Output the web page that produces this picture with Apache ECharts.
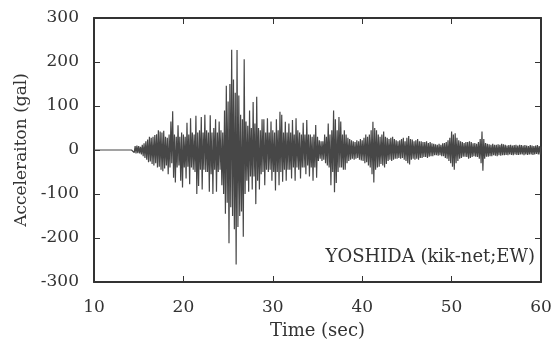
<!DOCTYPE html>
<html>
<head>
<meta charset="utf-8">
<script src="https://cdn.jsdelivr.net/npm/echarts@6/dist/echarts.min.js"></script>
<style>
  html, body { margin: 0; padding: 0; background: #fff; }
  #chart { width: 556px; height: 345px; }
</style>
</head>
<body>
<div id="chart"></div>
<script>
// sampled record: start time and step (sec)
const t0 = 10
const dt = 0.1
// acceleration (gal); one row per second from 15 s
const accel = [
  0, 0, 0, 0, 0, 0, 0, 0, 0, 0, 0, 0, 0, 0, 0, 0, 0, 0, 0, 0, 0, 0,
  0, 0, 0, 0, 0, 0, 0, 0, 0, 0, 0, 0, 0, 0, 0, 0, 0, 0, 0, 0, 0, 0,
  4, -6, 9, -8, 10, -7,
  9, -8, 7, -10, 12, -14, 15, -18, 20, -22,
  24, -28, 30, -26, 28, -32, 30, -35, 34, -30,
  36, -40, 45, -38, 42, -45, 40, -48, 44, -42,
  30, -35, 28, -55, 35, -40, 65, -30, 88, -63,
  35, -74, 30, -40, 56, -35, 30, -70, 40, -85,
  35, -40, 30, -65, 62, -38, 35, -78, 72, -40,
  40, -45, 35, -50, 78, -100, 40, -82, 45, -45,
  75, -90, 40, -45, 80, -50, 45, -50, 40, -95,
  79, -55, 40, -100, 50, -45, 70, -95, 40, -50,
  65, -45, 45, -80, 40, -100, 90, -145, 146, -120,
  110, -212, 150, -130, 228, -150, 160, -180, 130, -260,
  227, -175, 124, -150, 80, -140, 70, -197, 206, -100,
  65, -70, 55, -95, 90, -60, 50, -90, 109, -60,
  60, -123, 121, -70, 50, -90, 45, -55, 70, -50,
  70, -80, 40, -45, 72, -50, 40, -45, 65, -70,
  45, -50, 40, -92, 70, -50, 45, -80, 87, -50,
  80, -72, 40, -45, 64, -70, 40, -45, 60, -45,
  40, -65, 68, -40, 35, -70, 72, -40, 45, -45,
  40, -65, 35, -40, 62, -40, 35, -55, 68, -35,
  35, -60, 35, -40, 30, -70, 35, -40, 57, -63,
  30, -25, 22, -20, 20, -25, 20, -22, 35, -30,
  30, -35, 60, -40, 35, -80, 45, -50, 90, -96,
  70, -75, 45, -50, 75, -40, 65, -40, 35, -45,
  45, -45, 35, -30, 28, -25, 25, -22, 22, -20,
  20, -22, 18, -20, 22, -18, 20, -22, 25, -24,
  22, -25, 28, -30, 35, -28, 30, -35, 35, -40,
  45, -55, 64, -74, 50, -45, 45, -40, 35, -38,
  30, -32, 35, -35, 42, -40, 30, -32, 28, -25,
  25, -22, 28, -25, 30, -22, 25, -20, 22, -20,
  20, -18, 22, -20, 25, -18, 28, -22, 20, -25,
  28, -30, 32, -33, 25, -22, 24, -20, 20, -22,
  22, -20, 25, -22, 20, -18, 20, -18, 18, -16,
  18, -16, 20, -18, 16, -15, 18, -14, 15, -14,
  14, -12, 13, -12, 12, -13, 14, -12, 12, -14,
  15, -14, 16, -18, 18, -20, 22, -25, 28, -30,
  42, -38, 35, -45, 38, -30, 28, -25, 22, -20,
  20, -18, 18, -15, 16, -15, 18, -16, 18, -20,
  20, -18, 18, -16, 15, -14, 16, -15, 14, -16,
  18, -20, 25, -30, 42, -47, 25, -20, 16, -15,
  14, -15, 13, -14, 12, -14, 14, -12, 12, -13,
  12, -14, 13, -12, 12, -13, 14, -12, 13, -12,
  12, -11, 10, -12, 11, -10, 12, -11, 10, -12,
  11, -10, 12, -11, 10, -11, 12, -10, 11, -10,
  10, -12, 11, -10, 10, -11, 9, -10, 11, -10,
  10, -11, 9, -10, 10, -9, 11, -10, 9, -10,
  8
]
const stationLabel = 'YOSHIDA (kik-net;EW)'

const ink = '#333333'
const font = 'DejaVu Serif'

const chart = echarts.init(document.getElementById('chart'))

const frameAxis = {
  axisLine: { show: true, onZero: false, lineStyle: { color: ink, width: 2 } },
  axisTick: { show: true, inside: true, length: 6, lineStyle: { color: ink, width: 1 } },
  splitLine: { show: false }
}

chart.setOption({
  animation: false,
  grid: { left: 94, right: 15, top: 18, bottom: 59 },
  xAxis: [
    {
      ...frameAxis,
      type: 'value', min: 10, max: 60, interval: 10,
      position: 'bottom',
      name: 'Time (sec)', nameLocation: 'middle', nameGap: 40,
      nameTextStyle: { color: ink, fontFamily: font, fontSize: 18 },
      axisLabel: { color: ink, fontFamily: font, fontSize: 17, margin: 17 }
    },
    {
      ...frameAxis,
      type: 'value', min: 10, max: 60, interval: 10,
      position: 'top',
      axisLabel: { show: false }
    }
  ],
  yAxis: [
    {
      ...frameAxis,
      type: 'value', min: -300, max: 300, interval: 100,
      position: 'left',
      name: 'Acceleraiton (gal)', nameLocation: 'middle', nameGap: 63,
      nameTextStyle: { color: ink, fontFamily: font, fontSize: 17 },
      axisLabel: { color: ink, fontFamily: font, fontSize: 17, margin: 15 }
    },
    {
      ...frameAxis,
      type: 'value', min: -300, max: 300, interval: 100,
      position: 'right',
      axisLabel: { show: false }
    }
  ],
  graphic: [{
    type: 'text',
    right: 21, top: 248,
    style: { text: stationLabel, fill: ink, font: '18px "DejaVu Serif"' }
  }],
  series: [{
    type: 'line',
    data: accel.map((v, i) => [t0 + i * dt, v]),
    showSymbol: false,
    sampling: false,
    lineStyle: { color: '#474747', width: 1.2 }
  }]
})
</script>
</body>
</html>
